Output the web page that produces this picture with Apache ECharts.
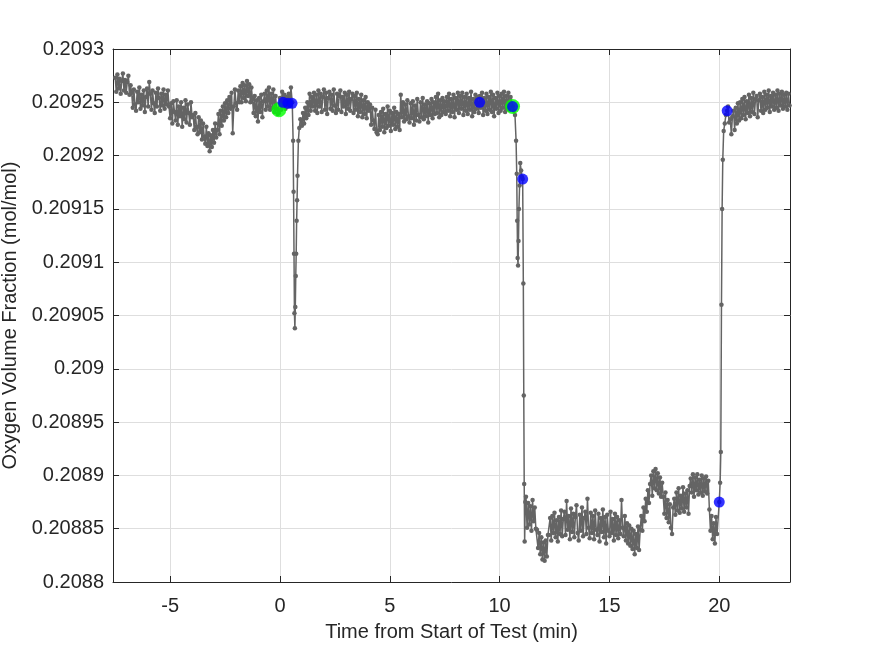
<!DOCTYPE html>
<html>
<head>
<meta charset="utf-8">
<script src="https://cdn.jsdelivr.net/npm/echarts@6/dist/echarts.min.js"></script>
<style>
html,body{margin:0;padding:0;background:#fff;}
#chart{width:875px;height:656px;}
</style>
</head>
<body>
<div id="chart"></div>
<script>
// sampling of the steady parts (min)
var sampleStep = 0.05;

// before the test, -7.5 .. 0.5 min
var preTestO2 = [
    0.209273, 0.209260, 0.209276, 0.209263, 0.209272, 0.209258, 0.209270, 0.209277, 0.209261, 0.209271,
    0.209259, 0.209269, 0.209275, 0.209257, 0.209266,
    0.209259, 0.209245, 0.209262, 0.209248, 0.209242, 0.209260, 0.209250, 0.209264, 0.209244, 0.209257,
    0.209247, 0.209261, 0.209241, 0.209255, 0.209263, 0.209246, 0.209269, 0.209258, 0.209243, 0.209261,
    0.209249, 0.209240, 0.209259, 0.209246, 0.209263, 0.209254, 0.209242, 0.209258, 0.209247, 0.209262,
    0.209244, 0.209257, 0.209248, 0.209261, 0.209246,
    0.209235, 0.209249, 0.209230, 0.209251, 0.209241, 0.209233, 0.209252, 0.209229, 0.209246, 0.209237,
    0.209250, 0.209227, 0.209245, 0.209234, 0.209252, 0.209231, 0.209248, 0.209240, 0.209229, 0.209250,
    0.209236,
    0.209238, 0.209224, 0.209240, 0.209227, 0.209220, 0.209236, 0.209222, 0.209233, 0.209215, 0.209230,
    0.209218, 0.209211, 0.209227, 0.209209, 0.209221, 0.209204, 0.209219, 0.209208, 0.209224, 0.209212,
    0.209230, 0.209217,
    0.209224, 0.209239, 0.209220, 0.209242, 0.209228, 0.209246, 0.209233, 0.209249, 0.209236, 0.209252,
    0.209240, 0.209255, 0.209244, 0.209259, 0.209221, 0.209246, 0.209262, 0.209249, 0.209243, 0.209261,
    0.209250,
    0.209265, 0.209250, 0.209268, 0.209254, 0.209266, 0.209251, 0.209270, 0.209256, 0.209267, 0.209250,
    0.209264, 0.209253,
    0.209240, 0.209256, 0.209237, 0.209252, 0.209232, 0.209254, 0.209241, 0.209257, 0.209236, 0.209251,
    0.209258, 0.209243,
    0.209261, 0.209246, 0.209264, 0.209243, 0.209258, 0.209245, 0.209262, 0.209241, 0.209256, 0.209244,
    0.209239, 0.209240, 0.209254, 0.209243, 0.209260, 0.209246, 0.209257, 0.209244, 0.209255, 0.209246,
    0.209258, 0.209247, 0.209264
];

// first short dip
var dip1Time = [0.56, 0.60, 0.62, 0.64, 0.66, 0.68, 0.70, 0.72, 0.74, 0.76, 0.78, 0.80, 0.84, 0.88, 0.93, 1.00, 1.05];
var dip1O2 = [0.209250, 0.209214, 0.209166, 0.209108, 0.209052, 0.209038, 0.209058, 0.209087, 0.209108,
    0.209139, 0.209158, 0.209181, 0.209214, 0.209226, 0.209234, 0.209228, 0.209240];

// 1.1 .. 10.5 min
var midO2 = [
    0.209230, 0.209245, 0.209235, 0.209250, 0.209238, 0.209258, 0.209242, 0.209255, 0.209246,
    0.209259, 0.209242, 0.209257, 0.209240, 0.209261, 0.209246, 0.209258, 0.209241, 0.209255, 0.209262,
    0.209243, 0.209259, 0.209239, 0.209254, 0.209260, 0.209244, 0.209257, 0.209242, 0.209262, 0.209247,
    0.209240, 0.209258, 0.209243, 0.209256, 0.209261, 0.209241, 0.209255, 0.209246, 0.209259, 0.209239,
    0.209257, 0.209244, 0.209260, 0.209242, 0.209253, 0.209258, 0.209240, 0.209256, 0.209243, 0.209259,
    0.209237, 0.209253, 0.209241, 0.209257, 0.209236, 0.209252, 0.209239, 0.209255, 0.209235, 0.209250,
    0.209242, 0.209248, 0.209229, 0.209245, 0.209233, 0.209225, 0.209243, 0.209222, 0.209220, 0.209238,
    0.209224, 0.209241, 0.209227, 0.209244, 0.209222, 0.209239, 0.209226, 0.209246, 0.209228, 0.209242,
    0.209223, 0.209240, 0.209229, 0.209245, 0.209225, 0.209241, 0.209227, 0.209239, 0.209224,
    0.209257, 0.209236, 0.209250, 0.209232, 0.209248, 0.209234, 0.209252, 0.209237, 0.209231, 0.209249,
    0.209235, 0.209251, 0.209229, 0.209247, 0.209233, 0.209253, 0.209238, 0.209232, 0.209250, 0.209236,
    0.209254, 0.209234, 0.209248, 0.209237, 0.209251, 0.209231, 0.209249, 0.209238, 0.209253, 0.209235,
    0.209250, 0.209239, 0.209255, 0.209240, 0.209258, 0.209236, 0.209252, 0.209238, 0.209254, 0.209241,
    0.209251,
    0.209239, 0.209255, 0.209242, 0.209258, 0.209237, 0.209253, 0.209241, 0.209257, 0.209236, 0.209254,
    0.209243, 0.209259, 0.209240, 0.209256, 0.209244, 0.209259, 0.209238, 0.209255, 0.209242, 0.209258,
    0.209239, 0.209254, 0.209243, 0.209260, 0.209237, 0.209253, 0.209241, 0.209257, 0.209244, 0.209255,
    0.209240, 0.209256, 0.209245, 0.209259, 0.209238, 0.209254, 0.209242, 0.209258, 0.209239, 0.209255,
    0.209243, 0.209260, 0.209241, 0.209257, 0.209237, 0.209254, 0.209244, 0.209259, 0.209240, 0.209256,
    0.209242, 0.209258, 0.209245, 0.209260, 0.209241, 0.209256, 0.209244, 0.209259, 0.209243, 0.209255
];

// second drop
var drop2Time = [10.60, 10.65, 10.70, 10.75, 10.78, 10.80, 10.82, 10.84, 10.86, 10.88, 10.91, 10.94,
    10.98, 11.02, 11.05, 11.08, 11.10, 11.12, 11.14, 11.17];
var drop2O2 = [0.209246, 0.209242, 0.209238, 0.209214, 0.209183, 0.209139, 0.209104, 0.209097, 0.209120,
    0.209150, 0.209172, 0.209193, 0.209186, 0.209180, 0.209178, 0.209080, 0.208975, 0.208892, 0.208838, 0.208875];

// low plateau, 11.2 .. 19.9 min
var lowO2 = [
    0.208880, 0.208851, 0.208874, 0.208854, 0.208871, 0.208848, 0.208877, 0.208857, 0.208870, 0.208850,
    0.208849, 0.208832, 0.208846, 0.208826, 0.208842, 0.208821, 0.208837, 0.208820, 0.208839, 0.208824,
    0.208844,
    0.208844, 0.208860, 0.208839, 0.208862, 0.208846, 0.208865, 0.208842, 0.208858, 0.208838, 0.208861,
    0.208845, 0.208867, 0.208843, 0.208859,
    0.208866, 0.208844, 0.208876, 0.208849, 0.208862, 0.208840, 0.208869, 0.208847, 0.208864, 0.208842,
    0.208861, 0.208872, 0.208846, 0.208839, 0.208863, 0.208848, 0.208870, 0.208843, 0.208860, 0.208866,
    0.208845, 0.208878, 0.208851, 0.208841, 0.208865, 0.208846, 0.208862, 0.208840, 0.208867, 0.208849,
    0.208844, 0.208864, 0.208838, 0.208860, 0.208847, 0.208868, 0.208842, 0.208861, 0.208836, 0.208863,
    0.208848, 0.208843, 0.208866, 0.208846, 0.208859, 0.208839, 0.208864, 0.208844, 0.208861, 0.208841,
    0.208858, 0.208845,
    0.208877, 0.208851, 0.208843, 0.208862, 0.208839, 0.208855, 0.208836, 0.208853, 0.208834, 0.208850,
    0.208831, 0.208848, 0.208826, 0.208845, 0.208832, 0.208852, 0.208830, 0.208849,
    0.208862, 0.208848, 0.208870, 0.208857, 0.208878, 0.208866, 0.208886, 0.208874,
    0.208892, 0.208900, 0.208881, 0.208904, 0.208888, 0.208906, 0.208886, 0.208902, 0.208883, 0.208898,
    0.208880, 0.208893,
    0.208880, 0.208864, 0.208884, 0.208860, 0.208877, 0.208856, 0.208873, 0.208851, 0.208845, 0.208870,
    0.208878, 0.208863, 0.208884, 0.208867, 0.208888, 0.208865, 0.208881, 0.208869, 0.208889, 0.208866,
    0.208883, 0.208870, 0.208886, 0.208864,
    0.208890, 0.208897, 0.208884, 0.208901, 0.208880, 0.208898, 0.208886, 0.208901, 0.208882, 0.208896,
    0.208884, 0.208900, 0.208881, 0.208897, 0.208885, 0.208899, 0.208883, 0.208895,
    0.208868, 0.208848, 0.208862, 0.208840, 0.208855, 0.208836, 0.208861, 0.208845
];

// recovery
var rise3Time = [20.00, 20.04, 20.07, 20.10, 20.13, 20.16, 20.20, 20.25, 20.30, 20.36];
var rise3O2 = [0.208875, 0.208893, 0.208922, 0.209060, 0.209150, 0.209196, 0.209223, 0.209230, 0.209238, 0.209242];

// 20.4 .. 23.2 min
var postO2 = [
    0.209246, 0.209231, 0.209234, 0.209220, 0.209237, 0.209242, 0.209224, 0.209245, 0.209230, 0.209249,
    0.209233,
    0.209250, 0.209235, 0.209253, 0.209238, 0.209255, 0.209234, 0.209251, 0.209240, 0.209257, 0.209237,
    0.209254, 0.209241, 0.209259, 0.209239, 0.209253, 0.209256, 0.209236, 0.209252, 0.209258, 0.209242,
    0.209255, 0.209240, 0.209260, 0.209243, 0.209257, 0.209245, 0.209261, 0.209241, 0.209256, 0.209246,
    0.209259, 0.209243, 0.209257, 0.209245, 0.209261, 0.209242, 0.209258, 0.209247, 0.209260, 0.209244,
    0.209257, 0.209246, 0.209259, 0.209243, 0.209258, 0.209247
];

// highlighted samples
var greenTime = [-0.05, 10.59];
var greenO2 = [0.209243, 0.209246];
var blueTime = [0.14, 0.36, 0.55, 9.09, 10.59, 11.05, 20.0, 20.36];
var blueO2 = [0.209250, 0.209249, 0.209249, 0.209250, 0.209246, 0.209178, 0.208875, 0.209242];

var xTicks = [-5, 0, 5, 10, 15, 20];

function regular(start, vals) {
    return vals.map(function (v, i) { return [+(start + i * sampleStep).toFixed(2), v]; });
}
function paired(ts, vs) {
    return ts.map(function (t, i) { return [t, vs[i]]; });
}

var trace = [].concat(
    regular(-7.5, preTestO2), paired(dip1Time, dip1O2),
    regular(1.1, midO2), paired(drop2Time, drop2O2),
    regular(11.2, lowO2), paired(rise3Time, rise3O2),
    regular(20.4, postO2)
);

var axisCol = '#262626';
var gridCol = '#dedede';
var fontFam = '"Liberation Sans", Arial, Helvetica, sans-serif';

var myChart = echarts.init(document.getElementById('chart'));
var option = {
    animation: false,
    backgroundColor: '#fff',
    grid: { left: 113, top: 49, width: 677, height: 533, show: false, containLabel: false, outerBoundsMode: 'none' },
    xAxis: [
        {
            type: 'value', min: -7.6, max: 23.22, position: 'bottom',
            name: 'Time from Start of Test (min)', nameLocation: 'middle', nameGap: 40,
            nameTextStyle: { color: axisCol, fontSize: 20, fontFamily: fontFam },
            axisLine: { show: true, onZero: false, lineStyle: { color: axisCol, width: 1 } },
            axisTick: { show: true, inside: true, length: 6, customValues: xTicks, lineStyle: { color: axisCol } },
            axisLabel: { customValues: xTicks, margin: 14, color: axisCol, fontSize: 20, fontFamily: fontFam },
            splitLine: { show: true, lineStyle: { color: gridCol, width: 1 } }
        },
        {
            type: 'value', min: -7.6, max: 23.22, position: 'top',
            axisLine: { show: true, onZero: false, lineStyle: { color: axisCol, width: 1 } },
            axisTick: { show: true, inside: true, length: 6, customValues: xTicks, lineStyle: { color: axisCol } },
            axisLabel: { show: false },
            splitLine: { show: false }
        }
    ],
    yAxis: [
        {
            type: 'value', min: 0.2088, max: 0.2093, interval: 0.00005, position: 'left',
            name: 'Oxygen Volume Fraction (mol/mol)', nameLocation: 'middle', nameGap: 93,
            nameTextStyle: { color: axisCol, fontSize: 20, fontFamily: fontFam },
            axisLine: { show: true, onZero: false, lineStyle: { color: axisCol, width: 1 } },
            axisTick: { show: true, inside: true, length: 6, lineStyle: { color: axisCol } },
            axisLabel: {
                margin: 9, color: axisCol, fontSize: 20, fontFamily: fontFam,
                formatter: function (v) { return String(+v.toFixed(5)); }
            },
            splitLine: { show: true, lineStyle: { color: gridCol, width: 1 } }
        },
        {
            type: 'value', min: 0.2088, max: 0.2093, interval: 0.00005, position: 'right',
            axisLine: { show: true, onZero: false, lineStyle: { color: axisCol, width: 1 } },
            axisTick: { show: true, inside: true, length: 6, lineStyle: { color: axisCol } },
            axisLabel: { show: false },
            splitLine: { show: false }
        }
    ],
    series: [
        {
            type: 'line', data: trace, xAxisIndex: 0, yAxisIndex: 0,
            symbol: 'circle', symbolSize: 4.5, showSymbol: true,
            lineStyle: { color: '#646464', width: 1.5 },
            itemStyle: { color: '#646464' },
            z: 2
        },
        {
            type: 'scatter', data: paired(greenTime, greenO2),
            symbol: 'circle', symbolSize: 15,
            itemStyle: { color: '#00ff00' }, z: 3
        },
        {
            type: 'scatter', data: paired(blueTime, blueO2),
            symbol: 'circle', symbolSize: 11,
            itemStyle: { color: '#0000ff' }, z: 4
        }
    ]
};
myChart.setOption(option, true);
</script>
</body>
</html>
